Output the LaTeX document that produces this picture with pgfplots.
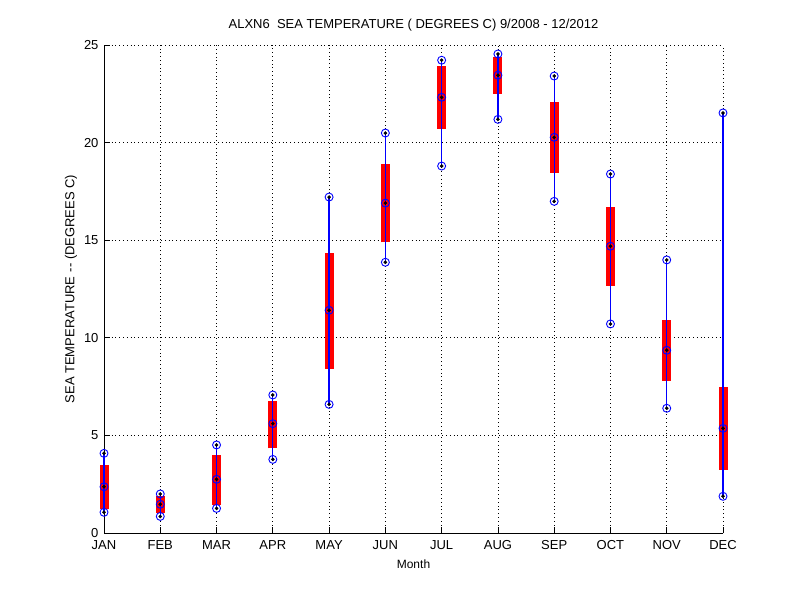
\documentclass[border=0pt]{standalone}
\usepackage{pgfplots}
\pgfplotsset{compat=1.18}
\usepackage{pgfplotstable}
\usepackage{fontspec}
\setmainfont{Liberation Sans}

\pgfplotstableread{
month lo q1 med q3 hi
1 1.06 1.25 2.37 3.48 4.08
2 0.85 1.04 1.47 1.90 2.00
3 1.26 1.45 2.75 4.00 4.51
4 3.77 4.34 5.60 6.76 7.07
5 6.59 8.42 11.41 14.34 17.21
6 13.87 14.89 16.90 18.90 20.49
7 18.80 20.71 22.32 23.92 24.22
8 21.19 22.51 23.45 24.37 24.54
9 16.99 18.46 20.27 22.08 23.41
10 10.71 12.67 14.69 16.68 18.39
11 6.39 7.80 9.36 10.91 13.99
12 1.88 3.24 5.36 7.46 21.52
}\stats

\pgfplotstableread{
x y
1 1.25
1 3.48
nan nan
2 1.04
2 1.90
nan nan
3 1.45
3 4.00
nan nan
4 4.34
4 6.76
nan nan
5 8.42
5 14.34
nan nan
6 14.89
6 18.90
nan nan
7 20.71
7 23.92
nan nan
8 22.51
8 24.37
nan nan
9 18.46
9 22.08
nan nan
10 12.67
10 16.68
nan nan
11 7.80
11 10.91
nan nan
12 3.24
12 7.46
}\boxes

\pgfplotstableread{
x y
1 1.06
1 4.08
nan nan
2 0.85
2 2.00
nan nan
3 1.26
3 4.51
nan nan
4 3.77
4 7.07
nan nan
5 6.59
5 17.21
nan nan
6 13.87
6 20.49
nan nan
7 18.80
7 24.22
nan nan
8 21.19
8 24.54
nan nan
9 16.99
9 23.41
nan nan
10 10.71
10 18.39
nan nan
11 6.39
11 13.99
nan nan
12 1.88
12 21.52
}\whiskers

\tikzset{mygrid/.style={black, line width=0.8pt, dash pattern=on 0.8pt off 3pt}}

\begin{document}
\begin{tikzpicture}
\begin{axis}[
  at={(104pt,67pt)}, anchor=south west,
  scale only axis, width=619pt, height=488pt,
  xmin=1, xmax=12, ymin=0, ymax=25,
  axis x line*=bottom, axis y line*=left,
  axis line style={-, black, line width=0.8pt},
  tick align=inside, major tick length=6pt,
  tick style={black, line width=0.8pt},
  xtick={1,2,3,4,5,6,7,8,9,10,11,12},
  xticklabels={JAN,FEB,MAR,APR,MAY,JUN,JUL,AUG,SEP,OCT,NOV,DEC},
  ytick={0,5,10,15,20,25},
  /pgf/number format/assume math mode=true,
  ticklabel style={font=\fontsize{13}{15}\selectfont},
  xticklabel style={yshift=-4pt},
  yticklabel style={xshift=-2pt},
  title={ALXN6\ \ SEA TEMPERATURE ( DEGREES C) 9/2008 - 12/2012},
  title style={font=\fontsize{13}{15}\selectfont, at={(axis description cs:0.5,1.0287)}, anchor=center, inner sep=0pt},
  xlabel={Month},
  xlabel style={font=\fontsize{12}{14}\selectfont, at={(axis description cs:0.5,-0.0635)}, anchor=center, inner sep=0pt},
  ylabel={SEA TEMPERATURE -\kern0.5pt- (DEGREES C)},
  ylabel style={font=\fontsize{13}{15}\selectfont, at={(axis description cs:-0.0533,0.5)}, anchor=center, inner sep=0pt},
  clip=false,
  unbounded coords=jump,
]
% dotted grid, drawn first, leaving the whisker spans free
\draw[mygrid] (axis cs:2,0) -- (axis cs:2,0.85) (axis cs:2,2.00) -- (axis cs:2,25);
\draw[mygrid] (axis cs:3,0) -- (axis cs:3,1.26) (axis cs:3,4.51) -- (axis cs:3,25);
\draw[mygrid] (axis cs:4,0) -- (axis cs:4,3.77) (axis cs:4,7.07) -- (axis cs:4,25);
\draw[mygrid] (axis cs:5,0) -- (axis cs:5,6.59) (axis cs:5,17.21) -- (axis cs:5,25);
\draw[mygrid] (axis cs:6,0) -- (axis cs:6,13.87) (axis cs:6,20.49) -- (axis cs:6,25);
\draw[mygrid] (axis cs:7,0) -- (axis cs:7,18.80) (axis cs:7,24.22) -- (axis cs:7,25);
\draw[mygrid] (axis cs:8,0) -- (axis cs:8,21.19) (axis cs:8,24.54) -- (axis cs:8,25);
\draw[mygrid] (axis cs:9,0) -- (axis cs:9,16.99) (axis cs:9,23.41) -- (axis cs:9,25);
\draw[mygrid] (axis cs:10,0) -- (axis cs:10,10.71) (axis cs:10,18.39) -- (axis cs:10,25);
\draw[mygrid] (axis cs:11,0) -- (axis cs:11,6.39) (axis cs:11,13.99) -- (axis cs:11,25);
\draw[mygrid] (axis cs:12,0) -- (axis cs:12,1.88) (axis cs:12,21.52) -- (axis cs:12,25);
\pgfplotsinvokeforeach{5,10,15,20,25}{
  \draw[mygrid] (axis cs:1,#1) -- (axis cs:12,#1);
}
\addplot[red, line width=9pt, mark=none] table[x=x, y=y] {\boxes};
\addplot[blue, line width=1.2pt, mark=none] table[x=x, y=y] {\whiskers};
\addplot[only marks, mark=o, mark size=4pt, mark options={draw=blue, line width=0.9pt}] table[x=month, y=lo] {\stats};
\addplot[only marks, mark=o, mark size=4pt, mark options={draw=blue, line width=0.9pt}] table[x=month, y=med] {\stats};
\addplot[only marks, mark=o, mark size=4pt, mark options={draw=blue, line width=0.9pt}] table[x=month, y=hi] {\stats};
\addplot[only marks, mark=*, mark size=1.6pt, mark options={fill=black, draw=black}] table[x=month, y=lo] {\stats};
\addplot[only marks, mark=*, mark size=1.6pt, mark options={fill=black, draw=black}] table[x=month, y=med] {\stats};
\addplot[only marks, mark=*, mark size=1.6pt, mark options={fill=black, draw=black}] table[x=month, y=hi] {\stats};
\end{axis}
\path (0pt,0pt) rectangle (800pt,600pt);
\end{tikzpicture}
\end{document}
